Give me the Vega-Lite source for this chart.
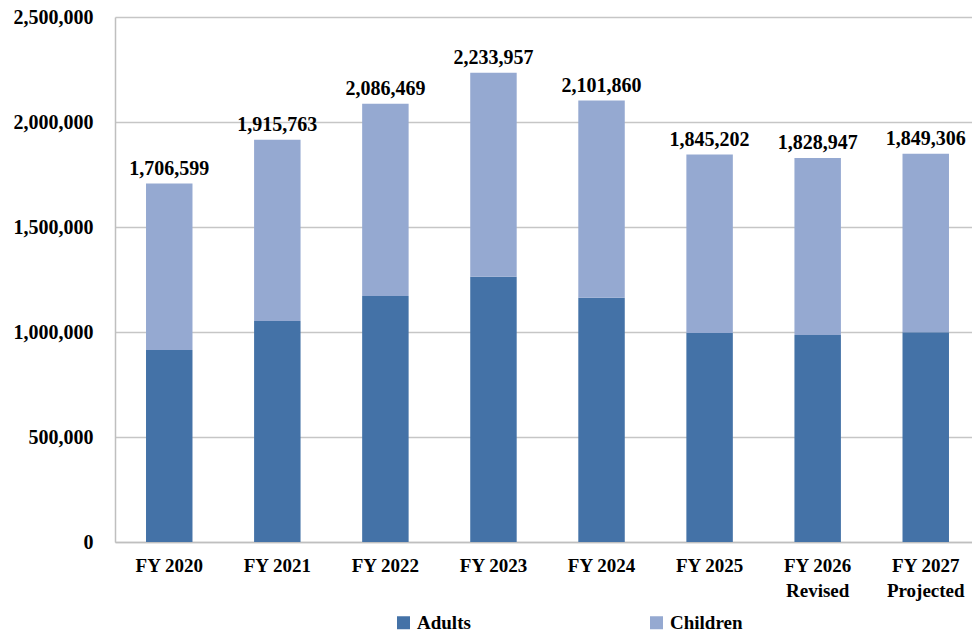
{
  "$schema": "https://vega.github.io/schema/vega-lite/v6.json",
  "width": 857,
  "height": 525,
  "autosize": {"type": "none"},
  "padding": {"left": 115, "top": 17, "right": 0, "bottom": 90},
  "background": "white",
  "config": {
    "view": {"stroke": null},
    "font": "Liberation Serif",
    "axis": {"labelFont": "Liberation Serif", "labelFontWeight": "bold", "labelColor": "#000000"},
    "legend": {"labelFont": "Liberation Serif", "labelFontWeight": "bold", "labelColor": "#000000"}
  },
  "data": {
    "values": [
      {"year": "FY 2020", "group": "Adults", "value": 914000},
      {"year": "FY 2020", "group": "Children", "value": 792599},
      {"year": "FY 2021", "group": "Adults", "value": 1052000},
      {"year": "FY 2021", "group": "Children", "value": 863763},
      {"year": "FY 2022", "group": "Adults", "value": 1171000},
      {"year": "FY 2022", "group": "Children", "value": 915469},
      {"year": "FY 2023", "group": "Adults", "value": 1263000},
      {"year": "FY 2023", "group": "Children", "value": 970957},
      {"year": "FY 2024", "group": "Adults", "value": 1163000},
      {"year": "FY 2024", "group": "Children", "value": 938860},
      {"year": "FY 2025", "group": "Adults", "value": 995000},
      {"year": "FY 2025", "group": "Children", "value": 850202},
      {"year": "FY 2026 Revised", "group": "Adults", "value": 986000},
      {"year": "FY 2026 Revised", "group": "Children", "value": 842947},
      {"year": "FY 2027 Projected", "group": "Adults", "value": 999000},
      {"year": "FY 2027 Projected", "group": "Children", "value": 850306}
    ]
  },
  "encoding": {
    "x": {
      "field": "year",
      "type": "nominal",
      "sort": null,
      "scale": {"paddingInner": 0.57, "paddingOuter": 0.25, "align": 0.574},
      "axis": {
        "title": null,
        "labelAngle": 0,
        "labelFontSize": 19,
        "labelPadding": 14,
        "labelLineHeight": 25,
        "labelBaseline": "top",
        "ticks": false,
        "domainColor": "#bfbfbf",
        "domainWidth": 1.5,
        "labelExpr": "length(split(datum.label,' '))>2 ? [join(slice(split(datum.label,' '),0,2),' '), split(datum.label,' ')[2]] : datum.label"
      }
    },
    "y": {
      "field": "value",
      "type": "quantitative",
      "aggregate": "sum",
      "scale": {"domain": [0, 2500000], "nice": false},
      "axis": {
        "title": null,
        "values": [0, 500000, 1000000, 1500000, 2000000, 2500000],
        "format": ",d",
        "labelFontSize": 20,
        "labelPadding": 22,
        "ticks": false,
        "domainColor": "#bfbfbf",
        "domainWidth": 1.5,
        "gridColor": "#c6c6c6",
        "gridWidth": 1.5
      }
    }
  },
  "layer": [
    {
      "mark": {"type": "bar"},
      "encoding": {
        "y": {
          "field": "value",
          "type": "quantitative",
          "aggregate": "sum",
          "stack": "zero"
        },
        "color": {
          "field": "group",
          "type": "nominal",
          "scale": {"domain": ["Adults", "Children"], "range": ["#4472A7", "#95A9D1"]},
          "legend": {
            "title": null,
            "orient": "none",
            "legendX": 279,
            "legendY": 596,
            "direction": "horizontal",
            "symbolType": "square",
            "symbolSize": 169,
            "symbolStrokeWidth": 0,
            "labelFontSize": 19,
            "labelOffset": 4,
            "columnPadding": 176
          }
        },
        "order": {"field": "group", "sort": "ascending"}
      }
    },
    {
      "mark": {"type": "text", "baseline": "bottom", "dy": -5, "fontSize": 20, "fontWeight": "bold", "font": "Liberation Serif", "color": "#000000"},
      "encoding": {
        "text": {"field": "value", "type": "quantitative", "aggregate": "sum", "format": ","}
      }
    }
  ]
}
